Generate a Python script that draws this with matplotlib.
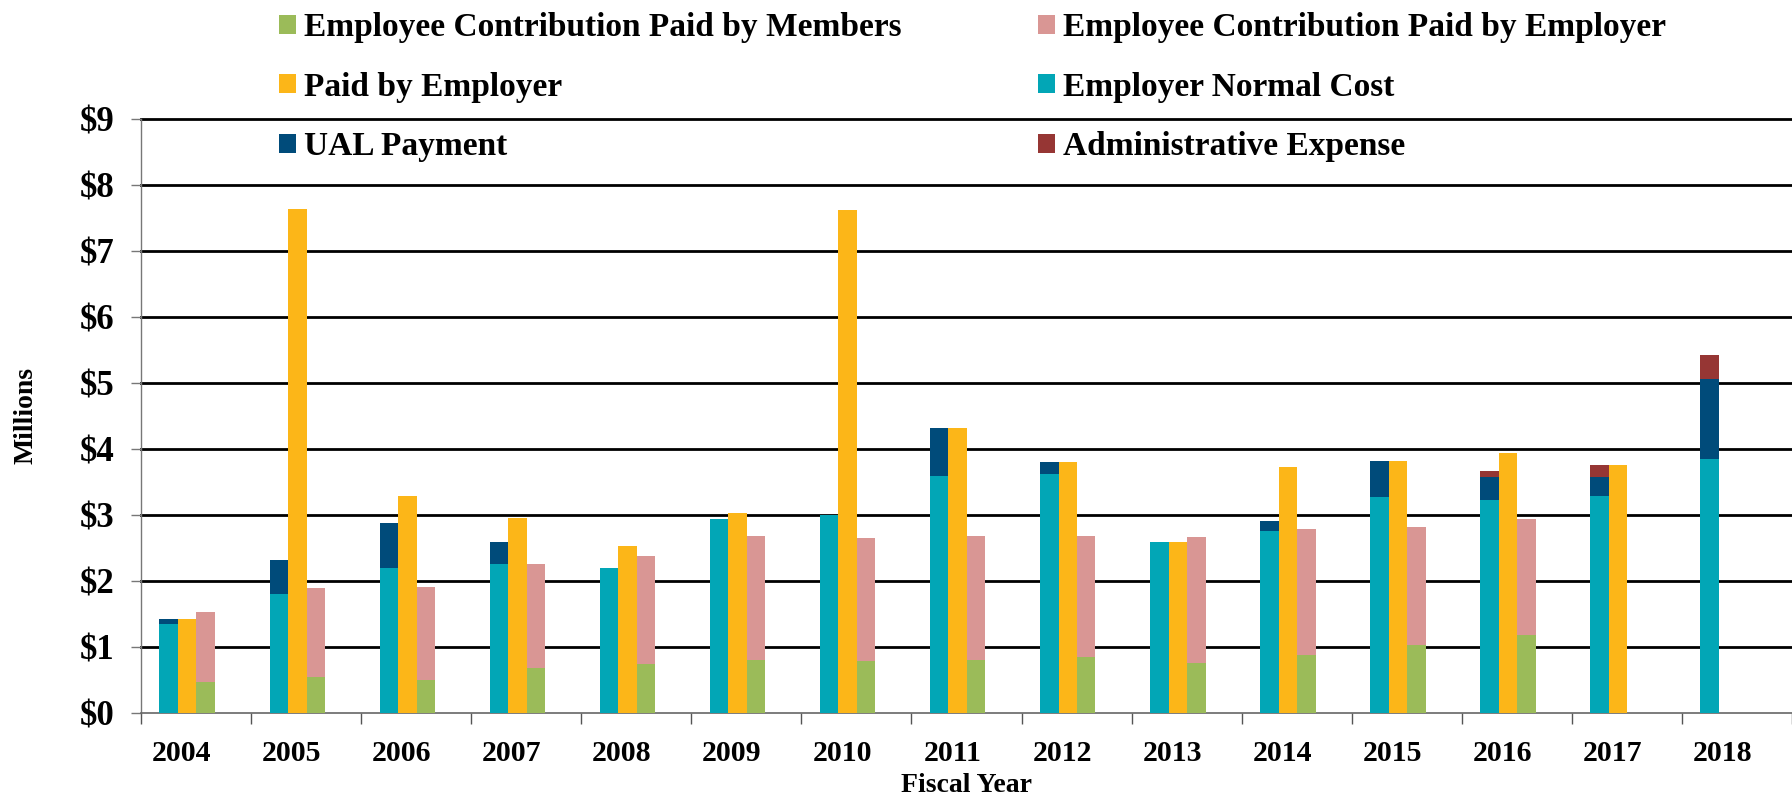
import matplotlib
matplotlib.use("Agg")
import matplotlib.pyplot as plt
import numpy as np

plt.rcParams['font.family'] = ['Liberation Serif', 'DejaVu Serif']
plt.rcParams['font.weight'] = 'bold'

# values in $ millions
years = ['2004', '2005', '2006', '2007', '2008', '2009', '2010', '2011',
         '2012', '2013', '2014', '2015', '2016', '2017', '2018']
normal_cost = [1.35, 1.80, 2.19, 2.26, 2.19, 2.93, 2.99, 3.58, 3.62, 2.59, 2.76, 3.27, 3.22, 3.29, 3.85]
ual_payment = [0.07, 0.51, 0.68, 0.33, 0.00, 0.00, 0.00, 0.73, 0.18, 0.00, 0.14, 0.54, 0.35, 0.28, 1.21]
admin_expense = [0, 0, 0, 0, 0, 0, 0, 0, 0, 0, 0, 0, 0.09, 0.19, 0.36]
paid_by_employer = [1.42, 7.63, 3.29, 2.95, 2.52, 3.03, 7.61, 4.31, 3.80, 2.59, 3.73, 3.81, 3.94, 3.76, 0]
ee_by_members = [0.47, 0.54, 0.49, 0.68, 0.74, 0.80, 0.78, 0.80, 0.85, 0.75, 0.88, 1.02, 1.17, 0, 0]
ee_by_employer = [1.05, 1.35, 1.42, 1.58, 1.64, 1.88, 1.86, 1.88, 1.83, 1.91, 1.90, 1.79, 1.77, 0, 0]

c_green = '#9BBB59'
c_pink = '#D99694'
c_orange = '#FCB618'
c_teal = '#02A6B6'
c_navy = '#004B7A'
c_red = '#963634'

fig = plt.figure(figsize=(17.92, 7.99), dpi=100)
ax = fig.add_axes([141 / 1792, 1 - 712.7 / 799, (1792 - 141) / 1792, (712.7 - 118.7) / 799])

# groups sit a little left of the middle of each year slot
x = np.arange(len(years)) + 0.42
w = 0.168

normal_cost = np.array(normal_cost)
ual_payment = np.array(ual_payment)
ee_by_members = np.array(ee_by_members)

b_nc = ax.bar(x - w, normal_cost, w, color=c_teal, zorder=3)
b_ual = ax.bar(x - w, ual_payment, w, bottom=normal_cost, color=c_navy, zorder=3)
b_adm = ax.bar(x - w, admin_expense, w, bottom=normal_cost + ual_payment, color=c_red, zorder=3)
b_pe = ax.bar(x, paid_by_employer, w, color=c_orange, zorder=3)
b_mem = ax.bar(x + w, ee_by_members, w, color=c_green, zorder=3)
b_eer = ax.bar(x + w, ee_by_employer, w, bottom=ee_by_members, color=c_pink, zorder=3)

ax.set_xlim(0, len(years))
ax.set_ylim(0, 9)

for v in range(1, 10):
    ax.axhline(v, color='black', lw=2.0, zorder=1, clip_on=False)

ax.set_yticks(range(0, 10))
ax.set_yticklabels(['$%d' % v for v in range(0, 10)])
ax.tick_params(axis='y', direction='out', length=7, width=1, color='#777777',
               labelsize=25, pad=12)

ax.set_xticks(np.arange(0, len(years) + 1))
ax.set_xticklabels([])
ax.set_xticks(x - 0.05, minor=True)
ax.set_xticklabels(years, minor=True)
ax.tick_params(axis='x', which='major', direction='out', length=8, width=1, color='#555555')
ax.tick_params(axis='x', which='minor', length=0, labelsize=21.5, pad=20)

for s in ['top', 'right']:
    ax.spines[s].set_visible(False)
ax.spines['left'].set_color('#777777')
ax.spines['bottom'].set_color('#666666')
ax.spines['left'].set_linewidth(1.0)
ax.spines['bottom'].set_linewidth(1.2)

ax.set_ylabel('Millions', fontsize=20, fontweight='bold', labelpad=30)
ax.set_xlabel('Fiscal Year', fontsize=20, fontweight='bold', labelpad=4)

handles = [b_mem, b_pe, b_ual, b_eer, b_nc, b_adm]
labels = ['Employee Contribution Paid by Members', 'Paid by Employer', 'UAL Payment',
          'Employee Contribution Paid by Employer', 'Employer Normal Cost',
          'Administrative Expense']
fig.legend(handles, labels, loc='upper left', bbox_to_anchor=(279 / 1792, 0.985),
           ncol=2, frameon=False, borderpad=0, borderaxespad=0,
           prop={'family': 'Liberation Serif', 'weight': 'bold', 'size': 24},
           handlelength=0.5, handleheight=0.5, handletextpad=0.25,
           labelspacing=0.86, columnspacing=4.1)

fig.savefig('out.png', dpi=100)
